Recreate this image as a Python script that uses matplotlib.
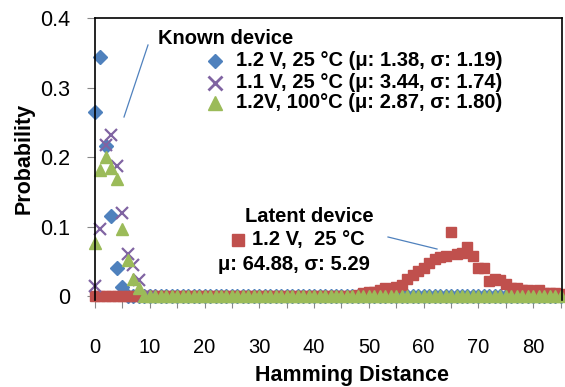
import numpy as np
import matplotlib.pyplot as plt
from matplotlib.lines import Line2D

plt.rcParams['font.family'] = ['Liberation Sans', 'DejaVu Sans']

# Datos
hd = np.arange(0, 86)

# Known device 1.2 V, 25 C
p_12v_25c = np.zeros(86)
p_12v_25c[:6] = [0.265, 0.344, 0.216, 0.115, 0.040, 0.0125]

# Known device 1.1 V, 25 C (solo hasta 10)
hd_11v = np.arange(0, 11)
p_11v_25c = [0.014, 0.097, 0.217, 0.232, 0.187, 0.120, 0.060, 0.044, 0.023, 0.0, 0.0]

# Known device 1.2 V, 100 C
p_12v_100c = np.zeros(86)
p_12v_100c[:9] = [0.077, 0.181, 0.200, 0.184, 0.169, 0.096, 0.052, 0.024, 0.011]

# Latent device 1.2 V, 25 C
p_latent = np.zeros(86)
p_latent[48:] = [0.002, 0.004, 0.006, 0.006, 0.008, 0.011, 0.009, 0.013, 0.016, 0.024,
                 0.030, 0.036, 0.040, 0.047, 0.053, 0.056, 0.058, 0.092, 0.060, 0.062,
                 0.070, 0.058, 0.040, 0.040, 0.021, 0.024, 0.023, 0.018, 0.012, 0.011,
                 0.008, 0.009, 0.007, 0.008, 0.005, 0.004, 0.005, 0.003]

y_ticks = [0, 0.1, 0.2, 0.3, 0.4]
x_ticks = np.arange(0, 86, 5)
x_ticklabels = [str(v) if v % 10 == 0 else '' for v in x_ticks]

azul = '#4F81BD'
morado = '#8064A2'
verde = '#9BBB59'
rojo = '#C0504D'

W, H = 565, 387


def fx(px):
    return px / W


def fy(py):
    return 1 - py / H


fig = plt.figure(figsize=(W / 100, H / 100), dpi=100)
ax = fig.add_axes([fx(95), fy(299.5), (561.7 - 95) / W, (299.5 - 18) / H])

# Series
ax.plot(hd, p_12v_25c, linestyle='none', marker='D', ms=6.8, color=azul, mec=azul, clip_on=False)
ax.plot(hd, p_latent, linestyle='none', marker='s', ms=6.8, color=rojo, mec=rojo, clip_on=False)
ax.plot(hd_11v, p_11v_25c, linestyle='none', marker='x', ms=8.5, mew=1.6, color=morado, clip_on=False)
ax.plot(hd, p_12v_100c, linestyle='none', marker='^', ms=9, color=verde, mec=verde, clip_on=False)

ax.set_xlim(0, 85.2)
ax.set_ylim(-0.005, 0.4)
ax.set_yticks(y_ticks)
ax.set_yticklabels(['0' if v == 0 else f'{v:.1f}' for v in y_ticks])
ax.set_xticks(x_ticks)
ax.set_xticklabels(x_ticklabels)
ax.tick_params(axis='y', length=6, color='#888888', labelsize=15.5, pad=12)
ax.tick_params(axis='x', length=6, color='#888888', labelsize=14.5, pad=22)

ax.spines['bottom'].set_visible(False)
for s in ['left', 'top', 'right']:
    ax.spines[s].set_color('black')
    ax.spines[s].set_linewidth(1.2)

ax.set_ylabel('Probability', fontsize=15.5, fontweight='bold')
ax.yaxis.set_label_coords(-0.13, 0.5)
fig.text(fx(352), fy(381), 'Hamming Distance', fontsize=15.5, fontweight='bold',
         ha='center', va='baseline')

# Leyenda "Known device"
fig.text(fx(158), fy(38), 'Known device', fontsize=14.5, fontweight='bold', va='center')
etiquetas = ['1.2 V, 25 °C (μ: 1.38, σ: 1.19)',
             '1.1 V, 25 °C (μ: 3.44, σ: 1.74)',
             '1.2V, 100°C (μ: 2.87, σ: 1.80)']
estilos = [dict(marker='D', ms=7.5, color=azul),
           dict(marker='x', ms=9.5, mew=2, color=morado),
           dict(marker='^', ms=9.5, color=verde)]
for fila, (texto, est) in enumerate(zip(etiquetas, estilos)):
    yy = [61, 83, 103][fila]
    fig.add_artist(Line2D([fx(215)], [fy(yy)], linestyle='none', transform=fig.transFigure, **est))
    fig.text(fx(236), fy(yy), texto, fontsize=14.5, fontweight='bold', va='center')

# Leyenda "Latent device"
fig.text(fx(245), fy(216), 'Latent device', fontsize=14.5, fontweight='bold', va='center')
fig.add_artist(Line2D([fx(238)], [fy(240)], linestyle='none', marker='s', ms=8.5,
                      color=rojo, transform=fig.transFigure))
fig.text(fx(252), fy(240), '1.2 V,  25 °C', fontsize=14.5, fontweight='bold', va='center')
fig.text(fx(218), fy(264), 'μ: 64.88, σ: 5.29', fontsize=14.5, fontweight='bold', va='center')

# Lineas indicadoras
fig.add_artist(Line2D([fx(148), fx(124)], [fy(45), fy(117)], color=azul, lw=0.9,
                      transform=fig.transFigure))
fig.add_artist(Line2D([fx(388), fx(437)], [fy(237), fy(249)], color=azul, lw=0.9,
                      transform=fig.transFigure))

fig.savefig('out.png', dpi=100)
